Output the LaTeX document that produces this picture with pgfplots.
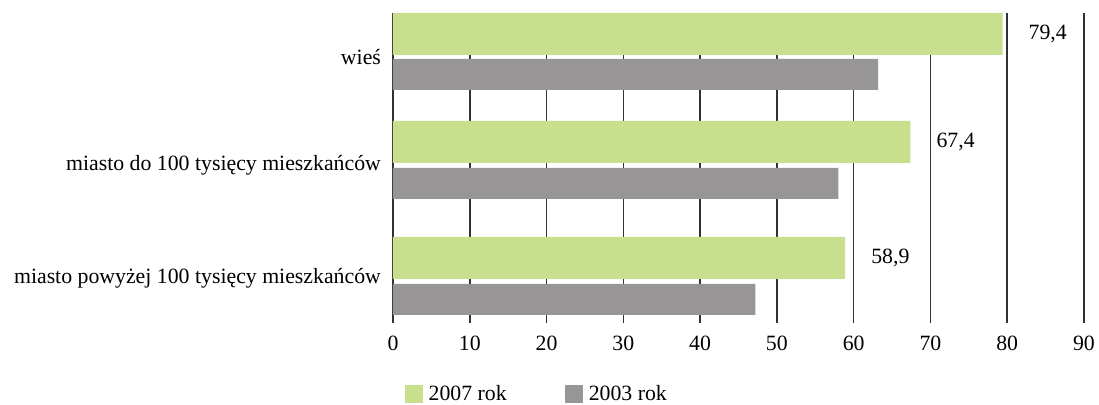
\documentclass[border=0pt]{standalone}
\usepackage{pgfplots}
\pgfplotsset{compat=1.18}
\usepackage{fontspec}
\setmainfont{Liberation Serif}
\definecolor{bargreen}{RGB}{200,224,141}
\definecolor{bargray}{RGB}{151,149,149}
\definecolor{gridgray}{RGB}{50,50,50}

\begin{document}
\begin{tikzpicture}[font=\fontsize{10.9}{12}\selectfont]
\begin{axis}[
  scale only axis, width=345.5pt, height=155pt,
  xmin=0, xmax=90, ymin=0, ymax=310, y dir=reverse,
  xtick={0,10,...,90}, ytick={44,152,265},
  yticklabels={wieś, miasto do 100 tysięcy mieszkańców, miasto powyżej 100 tysięcy mieszkańców},
  /pgf/number format/assume math mode=true,
  major tick length=0pt,
  xmajorgrids, grid style={gridgray, line width=0.75pt},
  axis line style={draw=none},
  xticklabel style={yshift=-3pt},
  yticklabel style={xshift=-2.5pt},
  legend image code/.code={\fill[#1] (0pt,-4.5pt) rectangle (9pt,4.5pt);},
  legend style={draw=none, at={(0.211,-0.229)}, anchor=center, legend columns=2,
    nodes={inner xsep=3pt},
    /tikz/every even column/.append style={column sep=26pt}},
  nodes near coords, point meta=explicit symbolic,
  every node near coord/.append style={anchor=west, xshift=9.5pt, black},
]
\addplot[xbar, bar width=42, fill=bargreen, draw=none] coordinates {
  (79.4,21)  [79,4]
  (67.4,129) [67,4]
  (58.9,245) [58,9]
};
\addlegendentry{2007 rok}
\addplot[xbar, bar width=31, fill=bargray, draw=none, nodes near coords={}] coordinates {
  (63.2,61.5)
  (58.0,170.5)
  (47.2,286.5)
};
\addlegendentry{2003 rok}
\end{axis}
\pgfresetboundingbox
\useasboundingbox (-196.5pt,-41pt) rectangle (353pt,161.5pt);
\end{tikzpicture}
\end{document}
